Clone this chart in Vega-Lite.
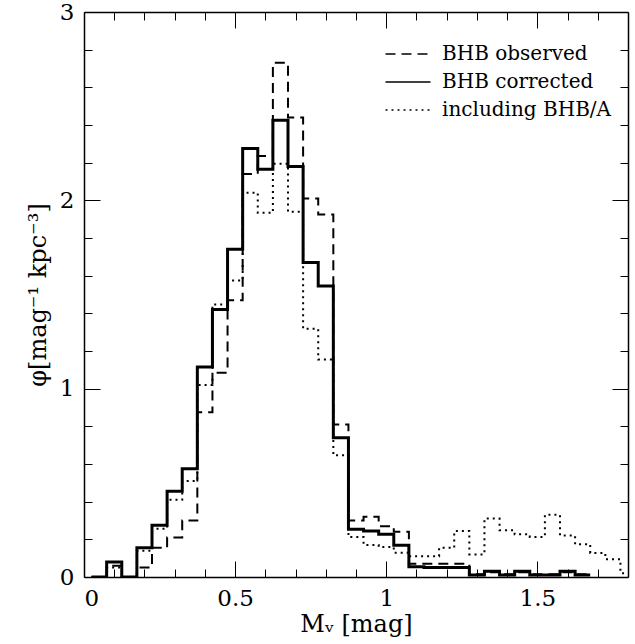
{
  "$schema": "https://vega.github.io/schema/vega-lite/v6.json",
  "width": 544,
  "height": 565,
  "autosize": {"type": "none"},
  "padding": {"left": 84, "top": 12, "right": 7, "bottom": 67},
  "background": "white",
  "config": {
    "view": {"stroke": null},
    "font": "DejaVu Serif",
    "axis": {"grid": false, "tickColor": "black", "domainColor": "black", "domainWidth": 1.5, "tickWidth": 1, "labelColor": "black", "titleColor": "black", "labelFont": "DejaVu Serif", "titleFont": "DejaVu Serif", "labelFontSize": 23, "titleFontSize": 24, "titleFontWeight": "normal"},
    "legend": {"labelFont": "DejaVu Serif", "labelFontSize": 20, "labelColor": "black", "labelLimit": 400}
  },
  "data": {"values": [
    {"s": "BHB corrected", "x": 0.025, "y": 0}, {"s": "BHB corrected", "x": 0.075, "y": 0.08}, {"s": "BHB corrected", "x": 0.125, "y": 0}, {"s": "BHB corrected", "x": 0.175, "y": 0.155}, {"s": "BHB corrected", "x": 0.225, "y": 0.275}, {"s": "BHB corrected", "x": 0.275, "y": 0.455}, {"s": "BHB corrected", "x": 0.325, "y": 0.575}, {"s": "BHB corrected", "x": 0.375, "y": 1.115}, {"s": "BHB corrected", "x": 0.425, "y": 1.42}, {"s": "BHB corrected", "x": 0.475, "y": 1.74}, {"s": "BHB corrected", "x": 0.525, "y": 2.275}, {"s": "BHB corrected", "x": 0.575, "y": 2.165}, {"s": "BHB corrected", "x": 0.625, "y": 2.425}, {"s": "BHB corrected", "x": 0.675, "y": 2.18}, {"s": "BHB corrected", "x": 0.725, "y": 1.67}, {"s": "BHB corrected", "x": 0.775, "y": 1.545}, {"s": "BHB corrected", "x": 0.825, "y": 0.74}, {"s": "BHB corrected", "x": 0.875, "y": 0.253}, {"s": "BHB corrected", "x": 0.925, "y": 0.244}, {"s": "BHB corrected", "x": 0.975, "y": 0.227}, {"s": "BHB corrected", "x": 1.025, "y": 0.168}, {"s": "BHB corrected", "x": 1.075, "y": 0.055}, {"s": "BHB corrected", "x": 1.125, "y": 0.05}, {"s": "BHB corrected", "x": 1.175, "y": 0.05}, {"s": "BHB corrected", "x": 1.225, "y": 0.05}, {"s": "BHB corrected", "x": 1.275, "y": 0.01}, {"s": "BHB corrected", "x": 1.325, "y": 0.03}, {"s": "BHB corrected", "x": 1.375, "y": 0.01}, {"s": "BHB corrected", "x": 1.425, "y": 0.03}, {"s": "BHB corrected", "x": 1.475, "y": 0.01}, {"s": "BHB corrected", "x": 1.525, "y": 0.01}, {"s": "BHB corrected", "x": 1.575, "y": 0.03}, {"s": "BHB corrected", "x": 1.625, "y": 0.01}, {"s": "BHB corrected", "x": 1.675, "y": 0.01},
    {"s": "BHB observed", "x": 0.025, "y": 0}, {"s": "BHB observed", "x": 0.075, "y": 0.06}, {"s": "BHB observed", "x": 0.125, "y": 0}, {"s": "BHB observed", "x": 0.175, "y": 0.05}, {"s": "BHB observed", "x": 0.225, "y": 0.155}, {"s": "BHB observed", "x": 0.275, "y": 0.21}, {"s": "BHB observed", "x": 0.325, "y": 0.3}, {"s": "BHB observed", "x": 0.375, "y": 0.875}, {"s": "BHB observed", "x": 0.425, "y": 1.085}, {"s": "BHB observed", "x": 0.475, "y": 1.47}, {"s": "BHB observed", "x": 0.525, "y": 2.14}, {"s": "BHB observed", "x": 0.575, "y": 2.235}, {"s": "BHB observed", "x": 0.625, "y": 2.73}, {"s": "BHB observed", "x": 0.675, "y": 2.44}, {"s": "BHB observed", "x": 0.725, "y": 2.01}, {"s": "BHB observed", "x": 0.775, "y": 1.925}, {"s": "BHB observed", "x": 0.825, "y": 0.81}, {"s": "BHB observed", "x": 0.875, "y": 0.3}, {"s": "BHB observed", "x": 0.925, "y": 0.32}, {"s": "BHB observed", "x": 0.975, "y": 0.27}, {"s": "BHB observed", "x": 1.025, "y": 0.24}, {"s": "BHB observed", "x": 1.075, "y": 0.07}, {"s": "BHB observed", "x": 1.125, "y": 0.07}, {"s": "BHB observed", "x": 1.175, "y": 0.07}, {"s": "BHB observed", "x": 1.225, "y": 0.07}, {"s": "BHB observed", "x": 1.275, "y": 0.015}, {"s": "BHB observed", "x": 1.325, "y": 0.025}, {"s": "BHB observed", "x": 1.375, "y": 0.015}, {"s": "BHB observed", "x": 1.425, "y": 0.025}, {"s": "BHB observed", "x": 1.475, "y": 0.015}, {"s": "BHB observed", "x": 1.525, "y": 0.015}, {"s": "BHB observed", "x": 1.575, "y": 0.025}, {"s": "BHB observed", "x": 1.625, "y": 0.015}, {"s": "BHB observed", "x": 1.675, "y": 0.015},
    {"s": "including BHB/A", "x": 0.025, "y": 0}, {"s": "including BHB/A", "x": 0.075, "y": 0.05}, {"s": "including BHB/A", "x": 0.125, "y": 0}, {"s": "including BHB/A", "x": 0.175, "y": 0.14}, {"s": "including BHB/A", "x": 0.225, "y": 0.256}, {"s": "including BHB/A", "x": 0.275, "y": 0.41}, {"s": "including BHB/A", "x": 0.325, "y": 0.51}, {"s": "including BHB/A", "x": 0.375, "y": 1.02}, {"s": "including BHB/A", "x": 0.425, "y": 1.447}, {"s": "including BHB/A", "x": 0.475, "y": 1.575}, {"s": "including BHB/A", "x": 0.525, "y": 2.04}, {"s": "including BHB/A", "x": 0.575, "y": 1.934}, {"s": "including BHB/A", "x": 0.625, "y": 2.194}, {"s": "including BHB/A", "x": 0.675, "y": 1.94}, {"s": "including BHB/A", "x": 0.725, "y": 1.318}, {"s": "including BHB/A", "x": 0.775, "y": 1.155}, {"s": "including BHB/A", "x": 0.825, "y": 0.646}, {"s": "including BHB/A", "x": 0.875, "y": 0.212}, {"s": "including BHB/A", "x": 0.925, "y": 0.17}, {"s": "including BHB/A", "x": 0.975, "y": 0.159}, {"s": "including BHB/A", "x": 1.025, "y": 0.129}, {"s": "including BHB/A", "x": 1.075, "y": 0.11}, {"s": "including BHB/A", "x": 1.125, "y": 0.11}, {"s": "including BHB/A", "x": 1.175, "y": 0.155}, {"s": "including BHB/A", "x": 1.225, "y": 0.244}, {"s": "including BHB/A", "x": 1.275, "y": 0.12}, {"s": "including BHB/A", "x": 1.325, "y": 0.31}, {"s": "including BHB/A", "x": 1.375, "y": 0.248}, {"s": "including BHB/A", "x": 1.425, "y": 0.227}, {"s": "including BHB/A", "x": 1.475, "y": 0.213}, {"s": "including BHB/A", "x": 1.525, "y": 0.33}, {"s": "including BHB/A", "x": 1.575, "y": 0.22}, {"s": "including BHB/A", "x": 1.625, "y": 0.174}, {"s": "including BHB/A", "x": 1.675, "y": 0.128}, {"s": "including BHB/A", "x": 1.725, "y": 0.094}, {"s": "including BHB/A", "x": 1.775, "y": 0.02}, {"s": "including BHB/A", "x": 1.8, "y": 0.02}
  ]},
  "resolve": {"axis": {"x": "independent", "y": "independent"}},
  "layer": [
    {
      "mark": {"type": "line", "interpolate": "step-after", "color": "black", "clip": true, "strokeCap": "butt"},
      "encoding": {
        "x": {"field": "x", "type": "quantitative", "scale": {"domain": [0, 1.8], "nice": false, "zero": false},
              "axis": {"orient": "bottom", "values": [0, 0.5, 1, 1.5], "labelExpr": "'' + datum.value", "tickSize": -16, "labelPadding": 26, "title": "Mᵥ [mag]", "titlePadding": 2}},
        "y": {"field": "y", "type": "quantitative", "scale": {"domain": [0, 3], "nice": false},
              "axis": {"orient": "left", "values": [0, 1, 2, 3], "tickSize": -16, "labelPadding": 26, "title": "φ[mag⁻¹ kpc⁻³]", "titlePadding": 9}},
        "detail": {"field": "s"},
        "strokeDash": {"field": "s", "type": "nominal",
          "scale": {"domain": ["BHB observed", "BHB corrected", "including BHB/A"], "range": [[10, 6], [1, 0], [2, 4]]},
          "legend": {"orient": "none", "legendX": 312, "legendY": 30, "title": null, "symbolType": "M-2,0H2", "symbolSize": 506, "symbolStrokeWidth": 1.5, "symbolStrokeColor": "black", "symbolFillColor": "transparent", "labelOffset": 22, "rowPadding": 6}},
        "strokeWidth": {"condition": {"test": "datum.s === 'BHB corrected'", "value": 3}, "value": 2}
      }
    },
    {
      "mark": {"type": "point", "opacity": 0},
      "encoding": {
        "x": {"field": "x", "type": "quantitative", "scale": {"domain": [0, 1.8], "nice": false, "zero": false},
              "axis": {"orient": "bottom", "values": [0.1, 0.2, 0.3, 0.4, 0.6, 0.7, 0.8, 0.9, 1.1, 1.2, 1.3, 1.4, 1.6, 1.7], "tickSize": -8, "labels": false, "domain": false, "title": null}},
        "y": {"field": "y", "type": "quantitative", "scale": {"domain": [0, 3], "nice": false},
              "axis": {"orient": "left", "values": [0.2, 0.4, 0.6, 0.8, 1.2, 1.4, 1.6, 1.8, 2.2, 2.4, 2.6, 2.8], "tickSize": -8, "labels": false, "domain": false, "title": null}}
      }
    },
    {
      "mark": {"type": "point", "opacity": 0},
      "encoding": {
        "x": {"field": "x", "type": "quantitative", "scale": {"domain": [0, 1.8], "nice": false, "zero": false},
              "axis": {"orient": "top", "values": [0, 0.5, 1, 1.5], "tickSize": -16, "labels": false, "title": null}},
        "y": {"field": "y", "type": "quantitative", "scale": {"domain": [0, 3], "nice": false},
              "axis": {"orient": "right", "values": [0, 1, 2, 3], "tickSize": -16, "labels": false, "title": null}}
      }
    },
    {
      "mark": {"type": "point", "opacity": 0},
      "encoding": {
        "x": {"field": "x", "type": "quantitative", "scale": {"domain": [0, 1.8], "nice": false, "zero": false},
              "axis": {"orient": "top", "values": [0.1, 0.2, 0.3, 0.4, 0.6, 0.7, 0.8, 0.9, 1.1, 1.2, 1.3, 1.4, 1.6, 1.7], "tickSize": -8, "labels": false, "domain": false, "title": null}},
        "y": {"field": "y", "type": "quantitative", "scale": {"domain": [0, 3], "nice": false},
              "axis": {"orient": "right", "values": [0.2, 0.4, 0.6, 0.8, 1.2, 1.4, 1.6, 1.8, 2.2, 2.4, 2.6, 2.8], "tickSize": -8, "labels": false, "domain": false, "title": null}}
      }
    }
  ]
}
